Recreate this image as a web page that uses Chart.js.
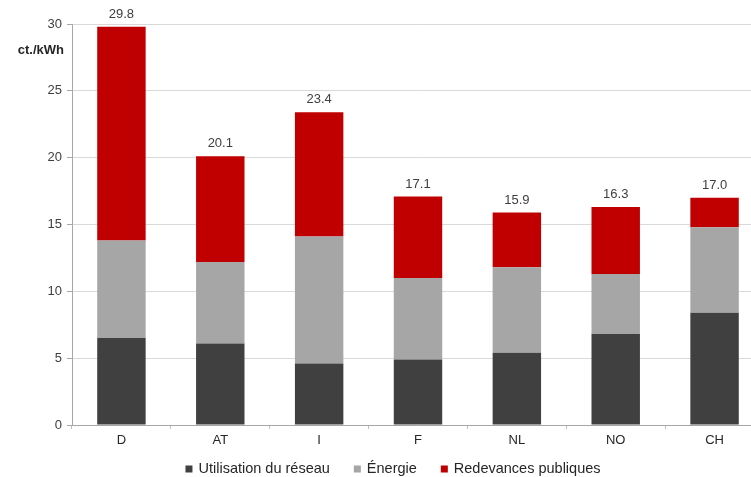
<!DOCTYPE html>
<html>
<head>
<meta charset="utf-8">
<script src="https://cdn.jsdelivr.net/npm/chart.js@4/dist/chart.umd.min.js"></script>
<style>
    html, body { margin: 0; padding: 0; background: #fff; overflow: hidden; }
    /* the plot runs a little past the right edge, as in the cropped original */
    #wrap { width: 764px; height: 477px; }
</style>
</head>
<body>
<div id="wrap"><canvas id="priceChart"></canvas></div>
<script>
        // Data
        const countries = ['D', 'AT', 'I', 'F', 'NL', 'NO', 'CH'];
        const network = [6.5, 6.1, 4.6, 4.9, 5.4, 6.8, 8.4];
        const energy = [7.3, 6.1, 9.5, 6.1, 6.4, 4.5, 6.4];
        const levies = [16.0, 7.9, 9.3, 6.1, 4.1, 5.0, 2.2];
        const totals = [29.8, 20.1, 23.4, 17.1, 15.9, 16.3, 17.0];
        const yTicks = [0, 5, 10, 15, 20, 25, 30];

        const FONT = 'Liberation Sans, Arial, sans-serif';

        // Totals above stacks, unit label and bottom legend
        const extrasPlugin = {
            id: 'extras',
            afterDraw(chart) {
                const ctx = chart.ctx;
                const meta = chart.getDatasetMeta(2);
                ctx.save();
                ctx.font = '13px ' + FONT;
                ctx.fillStyle = '#404040';
                ctx.textAlign = 'center';
                ctx.textBaseline = 'bottom';
                meta.data.forEach((bar, i) => {
                    ctx.fillText(totals[i].toFixed(1), bar.x, bar.y - 6);
                });

                ctx.font = 'bold 13px ' + FONT;
                ctx.fillStyle = '#262626';
                ctx.textAlign = 'right';
                ctx.textBaseline = 'middle';
                ctx.fillText('ct./kWh', chart.chartArea.left - 8, chart.chartArea.top + 26);

                // legend
                ctx.font = '14.5px ' + FONT;
                ctx.textAlign = 'left';
                const box = 7, gapIn = 6, gapOut = 24;
                const items = chart.data.datasets.map(ds => ({
                    text: ds.label,
                    color: ds.backgroundColor,
                    w: box + gapIn + ctx.measureText(ds.label).width
                }));
                const total = items.reduce((s, it) => s + it.w, 0) + gapOut * (items.length - 1);
                let x = chart.width / 2 + 11 - total / 2;
                const y = chart.height - 8;
                items.forEach(it => {
                    ctx.fillStyle = it.color;
                    ctx.fillRect(x, y - box / 2, box, box);
                    ctx.fillStyle = '#262626';
                    ctx.fillText(it.text, x + box + gapIn, y);
                    x += it.w + gapOut;
                });
                ctx.restore();
            }
        };

        const ctx = document.getElementById('priceChart').getContext('2d');
        const priceChart = new Chart(ctx, {
            type: 'bar',
            data: {
                labels: countries,
                datasets: [{
                    label: 'Utilisation du réseau',
                    data: network,
                    backgroundColor: '#404040'
                }, {
                    label: 'Énergie',
                    data: energy,
                    backgroundColor: '#a6a6a6'
                }, {
                    label: 'Redevances publiques',
                    data: levies,
                    backgroundColor: '#c00000'
                }]
            },
            options: {
                responsive: true,
                maintainAspectRatio: false,
                animation: false,
                categoryPercentage: 1,
                barPercentage: 0.49,
                layout: {
                    padding: { top: 24, right: 0, left: 0, bottom: 0 }
                },
                scales: {
                    x: {
                        stacked: true,
                        afterFit: function (scale) {
                            scale.height = 52;
                        },
                        grid: {
                            offset: true,
                            drawOnChartArea: false,
                            drawTicks: true,
                            tickLength: 4,
                            color: '#bfbfbf'
                        },
                        border: { color: '#a6a6a6' },
                        ticks: {
                            color: '#262626',
                            padding: 4,
                            font: { family: FONT, size: 13 }
                        }
                    },
                    y: {
                        stacked: true,
                        min: 0,
                        max: 30,
                        afterBuildTicks: function (scale) {
                            scale.ticks = yTicks.map(v => ({ value: v }));
                        },
                        afterFit: function (scale) {
                            scale.width = 72;
                        },
                        grid: {
                            color: '#d9d9d9',
                            tickLength: 5,
                            tickColor: '#a6a6a6'
                        },
                        border: { color: '#a6a6a6' },
                        ticks: {
                            color: '#404040',
                            padding: 5,
                            font: { family: FONT, size: 13 }
                        }
                    }
                },
                plugins: {
                    legend: { display: false },
                    tooltip: { enabled: false }
                }
            },
            plugins: [extrasPlugin]
        });
</script>
</body>
</html>
